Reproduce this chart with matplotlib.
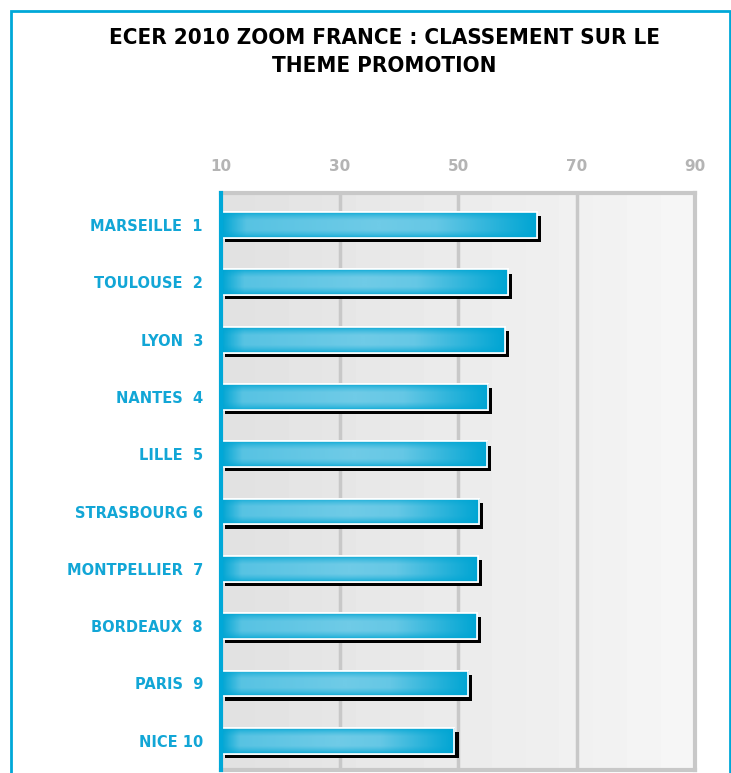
""" Classement ECER 2010 - theme promotion. """
import numpy as np
import matplotlib.pyplot as plt
import matplotlib.patches as mpatches
import matplotlib.transforms as mtransforms
from matplotlib.colors import LinearSegmentedColormap

cities = ['MARSEILLE  1', 'TOULOUSE  2', 'LYON  3', 'NANTES  4', 'LILLE  5',
          'STRASBOURG 6', 'MONTPELLIER  7', 'BORDEAUX  8', 'PARIS  9', 'NICE 10']
scores = [63.3, 58.4, 57.9, 55.1, 54.9, 53.6, 53.3, 53.2, 51.7, 49.4]
xticks = [10, 30, 50, 70, 90]

CYAN = '#00a8d8'
LABEL = '#12a6d6'
GRID = '#c8c8c8'

fig = plt.figure(figsize=(7.31, 7.73), dpi=100)
ax = fig.add_axes([221 / 731, 3 / 773, 474 / 731, 577 / 773])

# outer cyan frame
fig.patches.append(mpatches.Rectangle((11 / 731, -0.05), 719 / 731, 1.05 - 11 / 773,
                                      transform=fig.transFigure, fill=False,
                                      edgecolor=CYAN, lw=2))

for y, line in [(0.951, 'ECER 2010 ZOOM FRANCE : CLASSEMENT SUR LE'),
                (0.914, 'THEME PROMOTION')]:
    fig.text(0.526, y, line, ha='center', va='center', fontsize=16,
             fontweight='bold', fontstretch='condensed',
             family='DejaVu Sans', color='black')

ymin, ymax = -0.56, 9.51

# banded grey background, darker on the left
band = np.linspace(0, 1, 14).reshape(1, -1)
bg = LinearSegmentedColormap.from_list('bg', ['#e2e2e2', '#f6f6f6'])
ax.imshow(band, extent=[10, 90, ymax, ymin], aspect='auto', cmap=bg,
          interpolation='nearest', zorder=0)

# bar colour ramp
xs = np.linspace(0, 1, 200)
ys = np.linspace(0, 1, 40)
hx = np.clip(np.minimum(xs / 0.1, 1) * np.minimum((1 - xs) / 0.35, 1), 0, 1)
hx = np.minimum(hx, 1 - 0.25 * np.abs(xs - 0.5) * 2)
vy = 1 - np.abs(ys - 0.5) * 2
vy = np.clip(vy * 1.6, 0, 1) ** 0.6
grad = np.outer(vy, hx)
barcm = LinearSegmentedColormap.from_list('bar', ['#00a5d3', '#6fcbe7'])

shadow = ax.transData + mtransforms.ScaledTranslation(3 / 72, -3 / 72, fig.dpi_scale_trans)
h = 0.45
pos = np.arange(len(cities))
ax.barh(pos, np.array(scores) - 10, left=10, height=h, color='black',
        transform=shadow, zorder=2)
bars = ax.barh(pos, np.array(scores) - 10, left=10, height=h, color=CYAN,
               edgecolor='white', lw=1.2, zorder=3)
for i, (rect, s) in enumerate(zip(bars, scores)):
    im = ax.imshow(grad, extent=[10, s, i + h / 2, i - h / 2], aspect='auto',
                   cmap=barcm, vmin=0, vmax=1, zorder=3.5)
    im.set_clip_path(rect)
    ax.add_patch(mpatches.Rectangle((10, i - h / 2), s - 10, h, fill=False,
                                    edgecolor='white', lw=1.2, zorder=4))

ax.set_xlim(10, 90)
ax.set_ylim(ymax, ymin)
ax.set_aspect('auto')
ax.set_xticks(xticks)
ax.set_yticks(pos)
ax.set_yticklabels(cities)
ax.xaxis.tick_top()
ax.tick_params(axis='x', length=0, pad=14, labelsize=11, labelcolor='#b4b4b4')
ax.tick_params(axis='y', length=0, pad=13, labelsize=10.5, labelcolor=LABEL)
for lab in ax.get_xticklabels() + ax.get_yticklabels():
    lab.set_fontweight('bold')
for x in xticks[1:-1]:
    ax.axvline(x, color=GRID, lw=2.5, zorder=1)
for side in ('top', 'right', 'bottom'):
    ax.spines[side].set_color(GRID)
    ax.spines[side].set_linewidth(3)
ax.spines['left'].set_color(CYAN)
ax.spines['left'].set_linewidth(3)
ax.spines['left'].set_zorder(5)

fig.savefig('out.png', dpi=100)
